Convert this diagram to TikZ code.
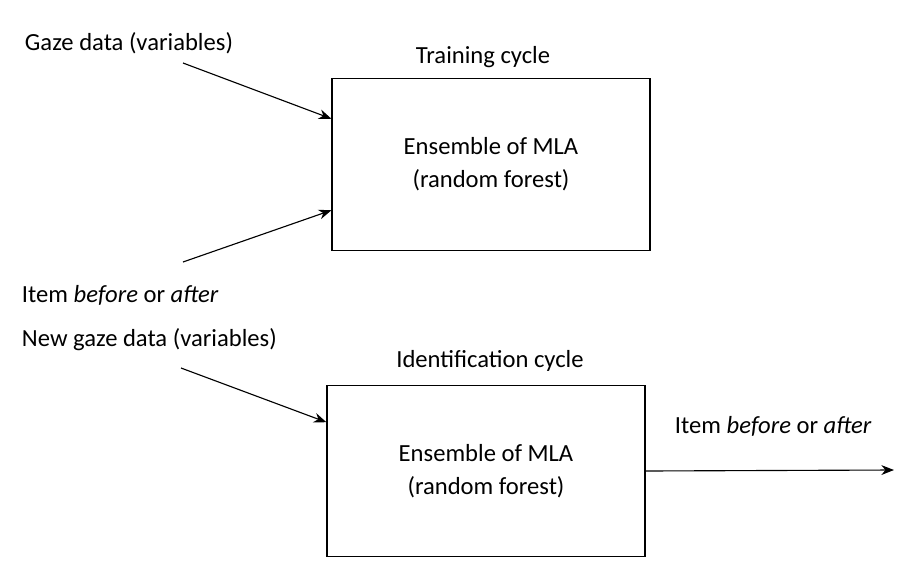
\documentclass[tikz,border=0pt]{standalone}
\usepackage{fontspec}
\setmainfont{Carlito}
\usepackage{xcolor}
\usetikzlibrary{arrows.meta}

\begin{document}
\begin{tikzpicture}[x=0.025cm,y=-0.025cm,font=\fontsize{17.5}{21}\selectfont,
    cyclebox/.style={draw,line width=0.8pt,minimum width=7.95cm,minimum height=4.28cm,
        align=center,inner sep=0pt},
    feed/.style={line width=0.8pt,-{Stealth[length=9pt,width=7pt]}}]
    \useasboundingbox (0,0) rectangle (903,574);

    % training cycle
    \node[cyclebox] (train) at (491,164.5) {Ensemble of MLA\\[2.5pt](random forest)};
    \node (traintitle) at (483,57) {Training cycle};
    \node[anchor=west] (gaze) at (20,43) {Gaze data (variables)};
    \node[anchor=west] (itemin) at (17,295) {Item \emph{before} or \emph{after}};
    \coordinate (gazeend) at (183,63);
    \coordinate (itemend) at (183,262);
    \draw[feed] (gazeend) -- (train.164);
    \draw[feed] (itemend) -- (train.196);

    % identification cycle
    \node[cyclebox] (ident) at (486,471) {Ensemble of MLA\\[2.5pt](random forest)};
    \node (identtitle) at (490,361) {Identification cycle};
    \node[anchor=west] (newgaze) at (17,340) {New gaze data (variables)};
    \node[anchor=west] (itemout) at (670,426) {Item \emph{before} or \emph{after}};
    \coordinate (newgazeend) at (181,368);
    \coordinate (outend) at (894,470);
    \draw[feed] (newgazeend) -- (ident.163.8);
    \draw[feed] (ident.east) -- (outend);
\end{tikzpicture}
\end{document}
